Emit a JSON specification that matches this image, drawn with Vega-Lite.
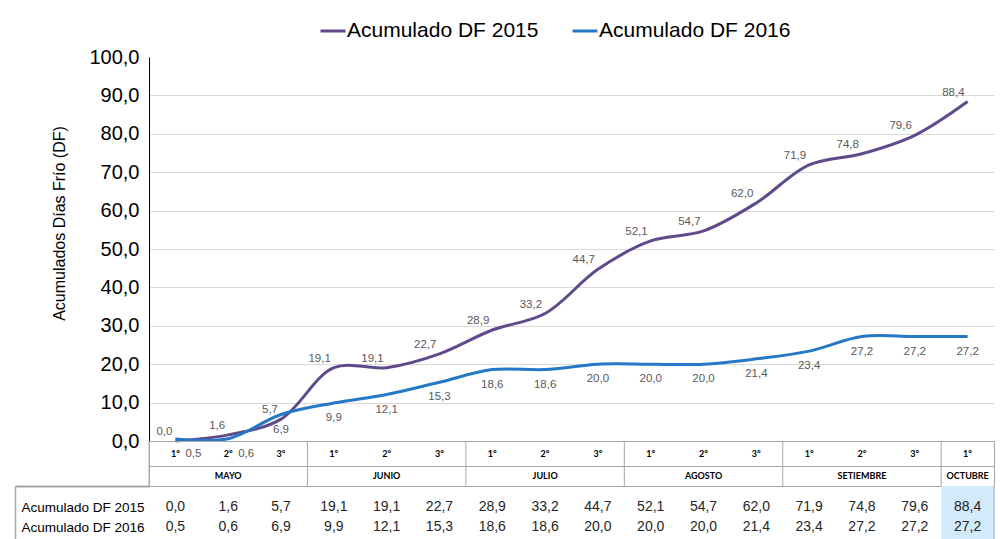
{
  "$schema": "https://vega.github.io/schema/vega-lite/v6.json",
  "padding": {"left": 14, "top": 17, "right": 7, "bottom": 0},
  "bounds": "flush",
  "spacing": 0,
  "config": {
    "locale": {"number": {"decimal": ",", "thousands": ".", "grouping": [3], "currency": ["", ""]}},
    "view": {"stroke": null},
    "font": "Liberation Sans"
  },
  "datasets": {
    "d": [
      {"k": "MAYO-1", "dec": "1°", "mes": "MAYO", "Acumulado DF 2015": 0.0, "Acumulado DF 2016": 0.5},
      {"k": "MAYO-2", "dec": "2°", "mes": "MAYO", "Acumulado DF 2015": 1.6, "Acumulado DF 2016": 0.6},
      {"k": "MAYO-3", "dec": "3°", "mes": "MAYO", "Acumulado DF 2015": 5.7, "Acumulado DF 2016": 6.9},
      {"k": "JUNIO-1", "dec": "1°", "mes": "JUNIO", "Acumulado DF 2015": 19.1, "Acumulado DF 2016": 9.9},
      {"k": "JUNIO-2", "dec": "2°", "mes": "JUNIO", "Acumulado DF 2015": 19.1, "Acumulado DF 2016": 12.1},
      {"k": "JUNIO-3", "dec": "3°", "mes": "JUNIO", "Acumulado DF 2015": 22.7, "Acumulado DF 2016": 15.3},
      {"k": "JULIO-1", "dec": "1°", "mes": "JULIO", "Acumulado DF 2015": 28.9, "Acumulado DF 2016": 18.6},
      {"k": "JULIO-2", "dec": "2°", "mes": "JULIO", "Acumulado DF 2015": 33.2, "Acumulado DF 2016": 18.6},
      {"k": "JULIO-3", "dec": "3°", "mes": "JULIO", "Acumulado DF 2015": 44.7, "Acumulado DF 2016": 20.0},
      {"k": "AGOSTO-1", "dec": "1°", "mes": "AGOSTO", "Acumulado DF 2015": 52.1, "Acumulado DF 2016": 20.0},
      {"k": "AGOSTO-2", "dec": "2°", "mes": "AGOSTO", "Acumulado DF 2015": 54.7, "Acumulado DF 2016": 20.0},
      {"k": "AGOSTO-3", "dec": "3°", "mes": "AGOSTO", "Acumulado DF 2015": 62.0, "Acumulado DF 2016": 21.4},
      {"k": "SETIEMBRE-1", "dec": "1°", "mes": "SETIEMBRE", "Acumulado DF 2015": 71.9, "Acumulado DF 2016": 23.4},
      {"k": "SETIEMBRE-2", "dec": "2°", "mes": "SETIEMBRE", "Acumulado DF 2015": 74.8, "Acumulado DF 2016": 27.2},
      {"k": "SETIEMBRE-3", "dec": "3°", "mes": "SETIEMBRE", "Acumulado DF 2015": 79.6, "Acumulado DF 2016": 27.2},
      {"k": "OCTUBRE-1", "dec": "1°", "mes": "OCTUBRE", "Acumulado DF 2015": 88.4, "Acumulado DF 2016": 27.2}
    ]
  },
  "vconcat": [
    {
      "width": 845,
      "height": 384,
      "data": {"name": "d"},
      "transform": [{"fold": ["Acumulado DF 2015", "Acumulado DF 2016"], "as": ["serie", "v"]}],
      "encoding": {
        "x": {"field": "k", "type": "nominal", "sort": null, "scale": {"type": "point", "padding": 0.5, "domain": ["MAYO-1", "MAYO-2", "MAYO-3", "JUNIO-1", "JUNIO-2", "JUNIO-3", "JULIO-1", "JULIO-2", "JULIO-3", "AGOSTO-1", "AGOSTO-2", "AGOSTO-3", "SETIEMBRE-1", "SETIEMBRE-2", "SETIEMBRE-3", "OCTUBRE-1"]}, "axis": null},
        "y": {
          "field": "v", "type": "quantitative",
          "scale": {"domain": [0, 100]},
          "axis": {
            "values": [0, 10, 20, 30, 40, 50, 60, 70, 80, 90, 100],
            "format": ".1f",
            "labelFontSize": 20,
            "labelColor": "#000",
            "labelPadding": 10,
            "ticks": false,
            "domainColor": "#000",
            "grid": true,
            "gridColor": {"condition": {"test": "datum.value == 100", "value": "transparent"}, "value": "#d9d9d9"},
            "title": "Acumulados  Días Frío (DF)",
            "titleFontSize": 16,
            "titleFontWeight": "normal",
            "titleColor": "#000",
            "titleX": -90,
            "titleY": 166,
            "titleBaseline": "middle"
          }
        },
        "color": {
          "field": "serie", "type": "nominal",
          "scale": {"domain": ["Acumulado DF 2015", "Acumulado DF 2016"], "range": ["#5f4b8b", "#2478c6"]},
          "legend": {
            "title": null, "orient": "none", "legendX": 170, "legendY": -40,
            "direction": "horizontal", "symbolType": "stroke", "symbolSize": 625, "symbolStrokeWidth": 3,
            "labelFontSize": 21, "labelColor": "#000", "labelOffset": 0, "columnPadding": 27, "labelLimit": 400
          }
        }
      },
      "layer": [
        {"mark": {"type": "line", "interpolate": "catmull-rom", "strokeWidth": 3}},
        {
          "transform": [{"filter": "datum.serie == 'Acumulado DF 2015'"}],
          "mark": {"type": "text", "align": "right", "dx": -3, "dy": -9, "fontSize": 11.5},
          "encoding": {"text": {"field": "v", "type": "quantitative", "format": ".1f"}, "color": {"value": "#595959"}}
        },
        {
          "transform": [{"filter": "datum.serie == 'Acumulado DF 2016' && datum.v >= 1"}],
          "mark": {"type": "text", "align": "center", "dy": 15, "fontSize": 11.5},
          "encoding": {"text": {"field": "v", "type": "quantitative", "format": ".1f"}, "color": {"value": "#595959"}}
        },
        {
          "transform": [{"filter": "datum.serie == 'Acumulado DF 2016' && datum.v < 1"}],
          "mark": {"type": "text", "align": "left", "dx": 10, "dy": 15, "fontSize": 11.5},
          "encoding": {"text": {"field": "v", "type": "quantitative", "format": ".1f"}, "color": {"value": "#595959"}}
        }
      ]
    },
    {
      "width": 845,
      "height": 25,
      "data": {"name": "d"},
      "view": {"stroke": "#a6a6a6"},
      "encoding": {"x": {"field": "k", "type": "nominal", "sort": null, "scale": {"type": "band", "paddingInner": 0, "paddingOuter": 0, "domain": ["MAYO-1", "MAYO-2", "MAYO-3", "JUNIO-1", "JUNIO-2", "JUNIO-3", "JULIO-1", "JULIO-2", "JULIO-3", "AGOSTO-1", "AGOSTO-2", "AGOSTO-3", "SETIEMBRE-1", "SETIEMBRE-2", "SETIEMBRE-3", "OCTUBRE-1"]}, "axis": null}},
      "layer": [
        {"mark": {"type": "text", "fontSize": 9, "fontWeight": "bold", "font": "Lato", "color": "#000"}, "encoding": {"text": {"field": "dec"}}},
        {
          "transform": [{"filter": "datum.dec == '1°'"}],
          "mark": {"type": "rule", "color": "#a6a6a6"},
          "encoding": {"x": {"field": "k", "type": "nominal", "sort": null, "bandPosition": 0}}
        }
      ]
    },
    {
      "width": 845,
      "height": 20,
      "data": {"name": "d"},
      "view": {"stroke": "#a6a6a6"},
      "encoding": {"x": {"field": "k", "type": "nominal", "sort": null, "scale": {"type": "band", "paddingInner": 0, "paddingOuter": 0, "domain": ["MAYO-1", "MAYO-2", "MAYO-3", "JUNIO-1", "JUNIO-2", "JUNIO-3", "JULIO-1", "JULIO-2", "JULIO-3", "AGOSTO-1", "AGOSTO-2", "AGOSTO-3", "SETIEMBRE-1", "SETIEMBRE-2", "SETIEMBRE-3", "OCTUBRE-1"]}, "axis": null}},
      "layer": [
        {
          "transform": [{"filter": "datum.dec == '2°' || datum.mes == 'OCTUBRE'"}],
          "mark": {"type": "text", "fontSize": 9, "fontWeight": "bold", "font": "Lato", "color": "#000"},
          "encoding": {"text": {"field": "mes"}}
        },
        {
          "transform": [{"filter": "datum.dec == '1°'"}],
          "mark": {"type": "rule", "color": "#a6a6a6"},
          "encoding": {"x": {"field": "k", "type": "nominal", "sort": null, "bandPosition": 0}}
        }
      ]
    },
    {
      "width": 845,
      "height": 53,
      "data": {"name": "d"},
      "transform": [{"fold": ["Acumulado DF 2015", "Acumulado DF 2016"], "as": ["serie", "v"]}],
      "encoding": {"x": {"field": "k", "type": "nominal", "sort": null, "scale": {"type": "band", "paddingInner": 0, "paddingOuter": 0, "domain": ["MAYO-1", "MAYO-2", "MAYO-3", "JUNIO-1", "JUNIO-2", "JUNIO-3", "JULIO-1", "JULIO-2", "JULIO-3", "AGOSTO-1", "AGOSTO-2", "AGOSTO-3", "SETIEMBRE-1", "SETIEMBRE-2", "SETIEMBRE-3", "OCTUBRE-1"]}, "axis": null}},
      "layer": [
        {
          "transform": [{"filter": "datum.mes == 'OCTUBRE' && datum.serie == 'Acumulado DF 2015'"}],
          "mark": {"type": "bar", "color": "#d2eafa"}
        },
        {
          "transform": [{"filter": "datum.mes == 'OCTUBRE' && datum.serie == 'Acumulado DF 2015'"}],
          "mark": {"type": "rule", "color": "#a6a6a6"},
          "encoding": {"x": {"field": "k", "type": "nominal", "sort": null, "bandPosition": 1}}
        },
        {
          "mark": {"type": "text", "fontSize": 14, "color": "#262626"},
          "encoding": {
            "y": {
              "field": "serie", "type": "nominal",
              "scale": {"type": "band", "paddingInner": 0, "paddingOuter": 0.325, "align": 0.85},
              "axis": {
                "title": null, "orient": "left", "offset": 134,
                "domainColor": "#a6a6a6", "domainWidth": 1.5,
                "labelAlign": "left", "labelPadding": 128, "labelOffset": 21,
                "labelFontSize": 13.5, "labelColor": "#000", "labelLimit": 200,
                "ticks": true, "tickSize": -134, "tickWidth": 2, "tickOffset": -21,
                "tickColor": {"condition": {"test": "datum.value === 'Acumulado DF 2015'", "value": "#a6a6a6"}, "value": "transparent"}
              }
            },
            "text": {"field": "v", "type": "quantitative", "format": ".1f"}
          }
        }
      ]
    }
  ]
}
